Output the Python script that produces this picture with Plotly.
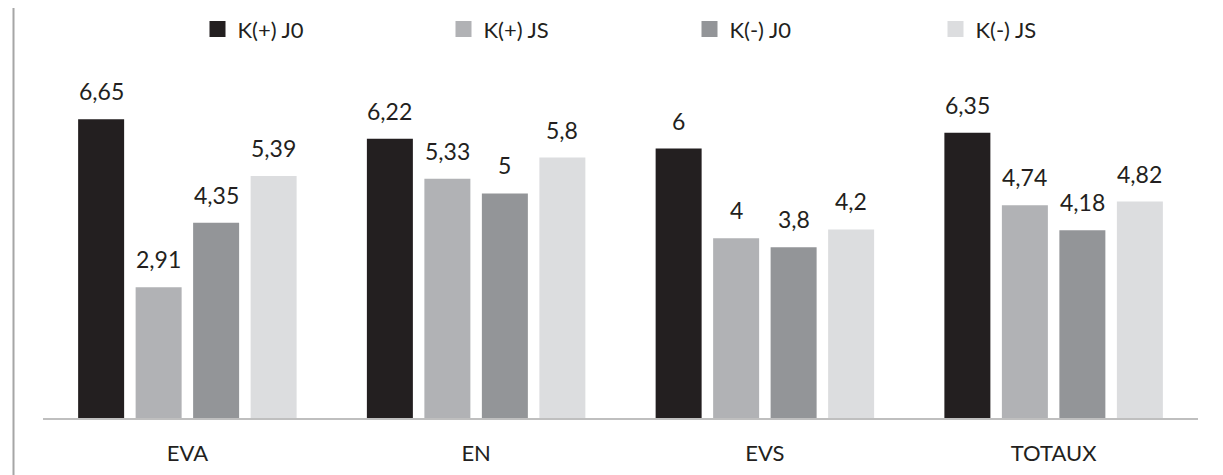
import plotly.graph_objects as go

categories = ["EVA", "EN", "EVS", "TOTAUX"]
series_names = ["K(+) J0", "K(+) JS", "K(-) J0", "K(-) JS"]
k_plus_j0 = [6.65, 6.22, 6, 6.35]
k_plus_js = [2.91, 5.33, 4, 4.74]
k_minus_j0 = [4.35, 5, 3.8, 4.18]
k_minus_js = [5.39, 5.8, 4.2, 4.82]
colors = ["#231f20", "#b1b2b5", "#939598", "#dcdddf"]

FONT = "Lato, 'Open Sans', sans-serif"
TXT = "#231f20"

# figure geometry (page body adds 8px offset)
W, H = 1215, 467
ML, MR, MT, MB = 35, 25, 0, 57
PW = W - ML - MR
PH = H - MT - MB
PX_PER_UNIT = 45.8

def fmt(v):
    return ("%g" % v).replace(".", ",")

all_series = [k_plus_j0, k_plus_js, k_minus_j0, k_minus_js]
bargap = 0.2035
slot = PW / len(categories) * (1 - bargap) / len(all_series)

fig = go.Figure()
annotations = []
for i, (name, vals, col) in enumerate(zip(series_names, all_series, colors)):
    fig.add_trace(go.Bar(
        name=name, x=categories, y=vals, showlegend=False,
        marker=dict(color=col, line=dict(width=0)),
    ))
    for c, v in zip(categories, vals):
        annotations.append(dict(
            x=c, y=v, xref="x", yref="y", text=fmt(v), showarrow=False,
            xanchor="center", yanchor="bottom",
            xshift=(i - 1.5) * slot, yshift=12,
            font=dict(size=23, color=TXT, family=FONT),
        ))
    # legend entry with square marker
    fig.add_trace(go.Scatter(
        name=name, x=[None], y=[None], mode="markers",
        marker=dict(symbol="square", size=16, color=col),
        showlegend=True,
    ))

fig.update_layout(
    width=W, height=H,
    margin=dict(l=ML, r=MR, t=MT, b=MB),
    paper_bgcolor="white", plot_bgcolor="white",
    barmode="group", bargap=bargap, bargroupgap=0.2,
    font=dict(family=FONT, color=TXT),
    legend=dict(orientation="h", x=(189.5 - ML) / PW, xanchor="left",
                y=1 - 13.5 / PH, yanchor="middle", bgcolor="rgba(0,0,0,0)",
                entrywidth=201, font=dict(size=22, color=TXT, family=FONT)),
    xaxis=dict(showline=True, linecolor="#bfbfbf", linewidth=1.5, ticks="",
               ticklabelstandoff=15,
               tickfont=dict(size=22, color=TXT, family=FONT), showgrid=False),
    yaxis=dict(range=[0, PH / PX_PER_UNIT], visible=False, showgrid=False,
               zeroline=False),
    annotations=annotations,
    shapes=[dict(type="line", xref="paper", yref="paper",
                 x0=(5.5 - ML) / PW, x1=(5.5 - ML) / PW,
                 y0=-(MB + 10) / PH, y1=1.05,
                 line=dict(color="#a6a6a6", width=2))],
)
fig.write_html("out.html")
